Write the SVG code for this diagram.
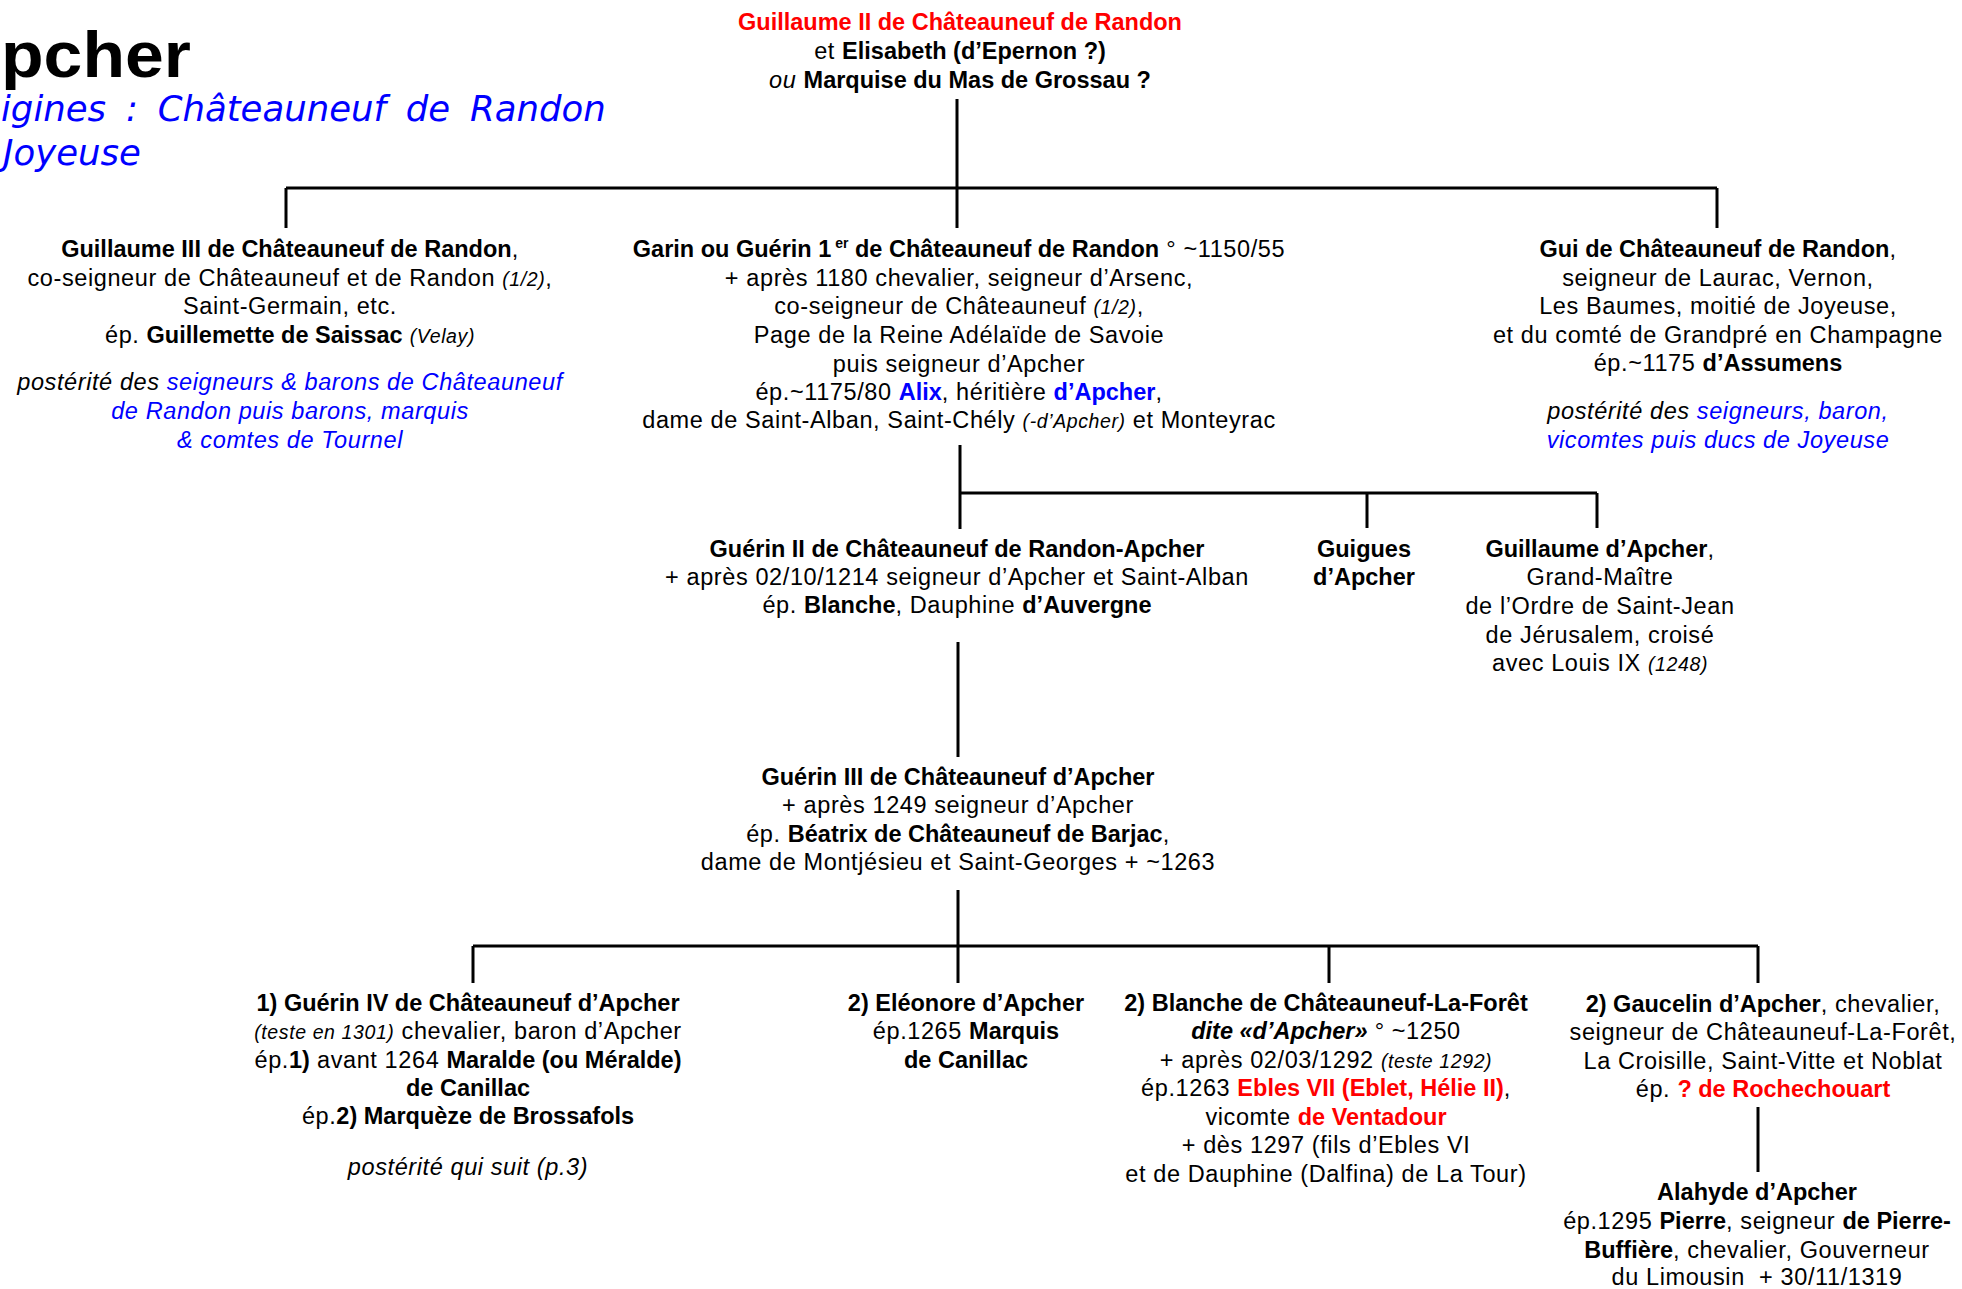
<svg xmlns="http://www.w3.org/2000/svg" width="1962" height="1289" viewBox="0 0 1962 1289">
<style>
text{font-family:"Liberation Sans",Arial,sans-serif;font-size:23.5px;text-anchor:middle;letter-spacing:0.6px;fill:#000}
.b{font-weight:bold;letter-spacing:0}
.i{font-style:italic}
.s{font-size:19.5px}
.r{fill:#ff0000}
.bl{fill:#0000ff}
.title{font-weight:bold;font-size:64px;text-anchor:start;letter-spacing:0}
.sub{font-family:"DejaVu Sans",Verdana,sans-serif;font-style:italic;font-size:35.5px;fill:#0000ff;text-anchor:start;letter-spacing:0;word-spacing:8.5px}
.ln{stroke:#000;stroke-width:3;fill:none}
</style>
<rect width="1962" height="1289" fill="#fff"/>
<g id="title">
<text class="title" transform="translate(1,77) scale(1.09,1)">pcher</text>
<text class="sub" x="1" y="121">igines : Châteauneuf de Randon</text>
<text class="sub" x="3" y="165">Joyeuse</text>
</g>
<g id="connectors">
<path class="ln" d="M957 99V228M286 188H1717M286 188V228M1717 188V228"/>
<path class="ln" d="M960 445V529M960 493H1597M1367 493V528M1597 493V528"/>
<path class="ln" d="M958 642V757"/>
<path class="ln" d="M958 890V983M473 946H1758M473 946V983M1329 946V983M1758 946V983"/>
<path class="ln" d="M1758 1107V1172"/>
</g>
<g id="n-guillaume2">
<text x="960" y="30" class="b r">Guillaume II de Châteauneuf de Randon</text>
<text x="960" y="59">et <tspan class="b">Elisabeth (d’Epernon ?)</tspan></text>
<text x="960" y="88"><tspan class="i">ou</tspan> <tspan class="b">Marquise du Mas de Grossau ?</tspan></text>
</g>
<g id="n-guillaume3">
<text x="290" y="257"><tspan class="b">Guillaume III de Châteauneuf de Randon</tspan>,</text>
<text x="290" y="286">co-seigneur de Châteauneuf et de Randon  <tspan class="i s">(1/2)</tspan>,</text>
<text x="290" y="314">Saint-Germain, etc.</text>
<text x="290" y="343">ép. <tspan class="b">Guillemette de Saissac</tspan> <tspan class="i s">(Velay)</tspan></text>
<text x="290" y="390" class="i">postérité des <tspan class="bl">seigneurs &amp; barons de Châteauneuf</tspan></text>
<text x="290" y="419" class="i bl">de Randon puis barons, marquis</text>
<text x="290" y="448" class="i bl">&amp; comtes de Tournel</text>
</g>
<g id="n-garin">
<text x="959" y="257"><tspan class="b">Garin ou Guérin 1</tspan><tspan class="b" font-size="14" dy="-9"> er</tspan><tspan class="b" dy="9"> de Châteauneuf de Randon</tspan> ° ~1150/55</text>
<text x="959" y="286">+ après 1180 chevalier, seigneur d’Arsenc,</text>
<text x="959" y="314">co-seigneur de Châteauneuf  <tspan class="i s">(1/2)</tspan>,</text>
<text x="959" y="343">Page de la Reine Adélaïde de Savoie</text>
<text x="959" y="372">puis seigneur d’Apcher</text>
<text x="959" y="400">ép.~1175/80 <tspan class="b bl">Alix</tspan>, héritière <tspan class="b bl">d’Apcher</tspan>,</text>
<text x="959" y="428">dame de Saint-Alban, Saint-Chély <tspan class="i s">(-d’Apcher)</tspan> et Monteyrac</text>
</g>
<g id="n-gui">
<text x="1718" y="257"><tspan class="b">Gui de Châteauneuf de Randon</tspan>,</text>
<text x="1718" y="286">seigneur de Laurac, Vernon,</text>
<text x="1718" y="314">Les Baumes, moitié de Joyeuse,</text>
<text x="1718" y="343">et du comté de Grandpré en Champagne</text>
<text x="1718" y="371">ép.~1175 <tspan class="b">d’Assumens</tspan></text>
<text x="1718" y="419" class="i">postérité des <tspan class="bl">seigneurs, baron,</tspan></text>
<text x="1718" y="448" class="i bl">vicomtes puis ducs de Joyeuse</text>
</g>
<g id="n-guerin2">
<text x="957" y="557" class="b">Guérin II de Châteauneuf de Randon-Apcher</text>
<text x="957" y="585">+ après 02/10/1214 seigneur d’Apcher et Saint-Alban</text>
<text x="957" y="613">ép. <tspan class="b">Blanche</tspan>, Dauphine <tspan class="b">d’Auvergne</tspan></text>
</g>
<g id="n-guigues">
<text x="1364" y="557" class="b">Guigues</text>
<text x="1364" y="585" class="b">d’Apcher</text>
</g>
<g id="n-guillaume-apcher">
<text x="1600" y="557"><tspan class="b">Guillaume d’Apcher</tspan>,</text>
<text x="1600" y="585">Grand-Maître</text>
<text x="1600" y="614">de l’Ordre de Saint-Jean</text>
<text x="1600" y="643">de Jérusalem, croisé</text>
<text x="1600" y="671">avec Louis IX <tspan class="i s">(1248)</tspan></text>
</g>
<g id="n-guerin3">
<text x="958" y="785" class="b">Guérin III de Châteauneuf d’Apcher</text>
<text x="958" y="813">+ après 1249 seigneur d’Apcher</text>
<text x="958" y="842">ép. <tspan class="b">Béatrix de Châteauneuf de Barjac</tspan>,</text>
<text x="958" y="870">dame de Montjésieu et Saint-Georges + ~1263</text>
</g>
<g id="n-guerin4">
<text x="468" y="1011" class="b">1) Guérin IV de Châteauneuf d’Apcher</text>
<text x="468" y="1039"><tspan class="i s">(teste en 1301)</tspan> chevalier, baron d’Apcher</text>
<text x="468" y="1068">ép.<tspan class="b">1)</tspan> avant 1264 <tspan class="b">Maralde (ou Méralde)</tspan></text>
<text x="468" y="1096" class="b">de Canillac</text>
<text x="468" y="1124">ép.<tspan class="b">2) Marquèze de Brossafols</tspan></text>
<text x="468" y="1175" class="i">postérité qui suit (p.3)</text>
</g>
<g id="n-eleonore">
<text x="966" y="1011" class="b">2) Eléonore d’Apcher</text>
<text x="966" y="1039">ép.1265 <tspan class="b">Marquis</tspan></text>
<text x="966" y="1068" class="b">de Canillac</text>
</g>
<g id="n-blanche">
<text x="1326" y="1011" class="b">2) Blanche de Châteauneuf-La-Forêt</text>
<text x="1326" y="1039"><tspan class="b i">dite «d’Apcher»</tspan> ° ~1250</text>
<text x="1326" y="1068">+ après 02/03/1292 <tspan class="i s">(teste 1292)</tspan></text>
<text x="1326" y="1096">ép.1263 <tspan class="b r">Ebles VII (Eblet, Hélie II)</tspan>,</text>
<text x="1326" y="1125">vicomte <tspan class="b r">de Ventadour</tspan></text>
<text x="1326" y="1153">+ dès 1297 (fils d’Ebles VI</text>
<text x="1326" y="1182">et de Dauphine (Dalfina) de La Tour)</text>
</g>
<g id="n-gaucelin">
<text x="1763" y="1012"><tspan class="b">2) Gaucelin d’Apcher</tspan>, chevalier,</text>
<text x="1763" y="1040">seigneur de Châteauneuf-La-Forêt,</text>
<text x="1763" y="1069">La Croisille, Saint-Vitte et Noblat</text>
<text x="1763" y="1097">ép. <tspan class="b r">? de Rochechouart</tspan></text>
</g>
<g id="n-alahyde">
<text x="1757" y="1200" class="b">Alahyde d’Apcher</text>
<text x="1757" y="1229">ép.1295 <tspan class="b">Pierre</tspan>, seigneur <tspan class="b">de Pierre-</tspan></text>
<text x="1757" y="1258"><tspan class="b">Buffière</tspan>, chevalier, Gouverneur</text>
<text x="1757" y="1285">du Limousin&#160; + 30/11/1319</text>
</g>
</svg>
